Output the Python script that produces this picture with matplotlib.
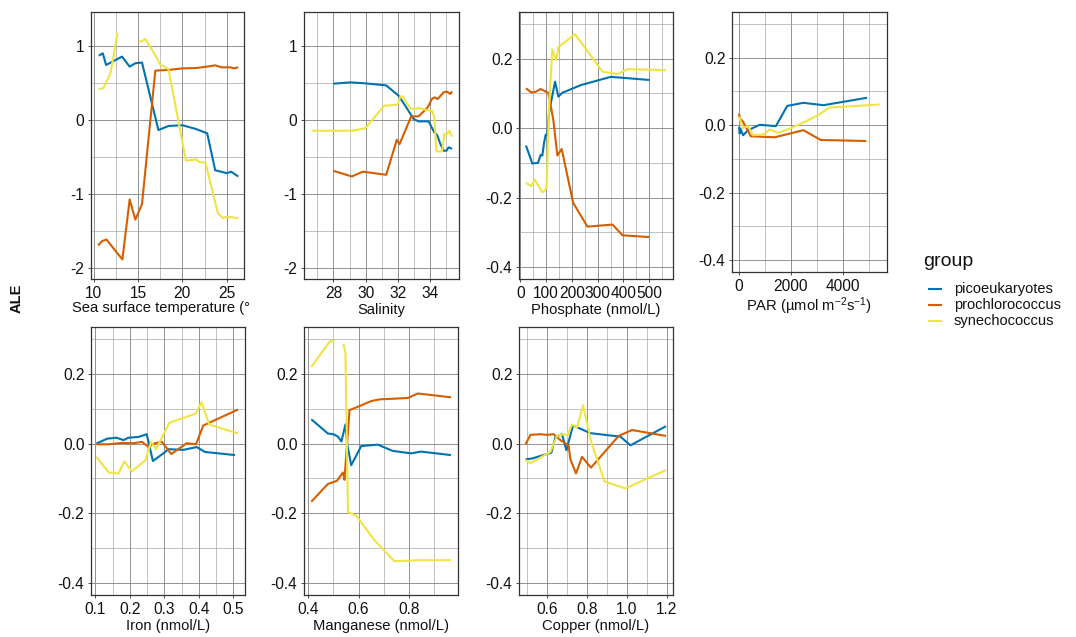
import numpy as np
import matplotlib
matplotlib.use("Agg")
import matplotlib.pyplot as plt
from matplotlib.ticker import MultipleLocator, AutoMinorLocator, FuncFormatter
from matplotlib.lines import Line2D

plt.rcParams['font.family'] = ['Liberation Sans', 'DejaVu Sans']
plt.rcParams['axes.unicode_minus'] = False
plt.rcParams['mathtext.fontset'] = 'custom'
plt.rcParams['mathtext.rm'] = 'Liberation Sans'
plt.rcParams['mathtext.it'] = 'Liberation Sans'

groups = ["picoeukaryotes", "prochlorococcus", "synechococcus"]
colors = ["#0072B2", "#D55E00", "#F0E442"]
nan = np.nan

# ---- Sea surface temperature ----
sst_pico_x = [10.58, 11.03, 11.4, 13.2, 14.06, 14.7, 15.45, 17.3, 18.44, 20.0, 21.5, 22.8, 23.7, 25.0, 25.5, 26.3]
sst_pico_y = [0.873, 0.905, 0.747, 0.86, 0.724, 0.77, 0.78, -0.136, -0.08, -0.07, -0.12, -0.18, -0.68, -0.72, -0.70, -0.765]
sst_pro_x = [10.5, 10.96, 11.44, 13.24, 14.06, 14.7, 15.45, 16.95, 18.44, 20.0, 21.6, 22.75, 23.7, 24.4, 25.4, 25.8, 26.3]
sst_pro_y = [-1.70, -1.64, -1.62, -1.89, -1.077, -1.35, -1.14, 0.67, 0.68, 0.70, 0.706, 0.724, 0.742, 0.715, 0.715, 0.70, 0.715]
sst_syn_x = [10.58, 11.1, 11.9, 12.68, 13.9, 15.07, 15.37, 15.82, 17.1, 17.5, 18.44, 20.4, 21.6, 21.9, 22.6, 24.0, 24.6, 25.0, 26.3]
sst_syn_y = [0.42, 0.434, 0.633, 1.18, nan, 1.068, 1.063, 1.10, 0.85, 0.75, 0.69, -0.55, -0.534, -0.57, -0.575, -1.26, -1.33, -1.31, -1.33]

# ---- Salinity ----
sal_pico_x = [28.0, 29.04, 29.97, 31.27, 32.04, 32.45, 32.97, 33.28, 33.9, 34.25, 34.42, 34.63, 34.83, 35.0, 35.14, 35.35]
sal_pico_y = [0.493, 0.511, 0.498, 0.47, 0.33, 0.195, 0.014, -0.018, -0.018, -0.167, -0.2, -0.326, -0.416, -0.416, -0.37, -0.39]
sal_pro_x = [28.0, 29.14, 29.82, 31.27, 31.93, 32.1, 32.82, 33.28, 33.84, 34.1, 34.27, 34.46, 34.83, 35.04, 35.25, 35.35]
sal_pro_y = [-0.688, -0.765, -0.70, -0.742, -0.267, -0.326, 0.05, 0.05, 0.172, 0.285, 0.308, 0.285, 0.376, 0.385, 0.353, 0.39]
sal_syn_x = [26.65, 29.14, 29.97, 31.15, 31.98, 32.14, 32.29, 32.76, 33.13, 33.28, 33.8, 34.1, 34.25, 34.38, 34.73, 34.87, 35.04, 35.18, 35.35]
sal_syn_y = [-0.145, -0.145, -0.113, 0.195, 0.208, 0.317, 0.321, 0.158, 0.149, 0.163, 0.136, 0.127, 0.045, -0.425, -0.425, -0.19, -0.19, -0.145, -0.226]

# ---- Phosphate ----
pho_pico_x = [22, 46.6, 68.7, 79, 85.5, 92, 98.4, 105, 111, 134.7, 147.7, 163, 234, 351, 500]
pho_pico_y = [-0.05, -0.102, -0.10, -0.077, -0.079, -0.043, -0.019, -0.019, 0.043, 0.134, 0.091, 0.102, 0.124, 0.148, 0.139]
pho_pro_x = [22, 42.7, 59.6, 79, 92, 108.8, 128, 143.8, 160.6, 204.7, 260.4, 357.5, 396.4, 500]
pho_pro_y = [0.115, 0.103, 0.105, 0.113, 0.108, 0.102, 0.024, -0.079, -0.06, -0.215, -0.284, -0.278, -0.309, -0.314]
pho_syn_x = [22, 42.7, 55.7, 85.5, 92, 102, 111, 124, 140, 147.7, 212.4, 318.7, 377, 415.8, 500, 564.8]
pho_syn_y = [-0.158, -0.167, -0.148, -0.185, -0.182, -0.172, 0.053, 0.227, 0.196, 0.234, 0.271, 0.163, 0.156, 0.17, 0.169, 0.167]

# ---- PAR ----
par_pico_x = [0, 26, 52, 155, 348, 800, 1419, 1858, 2477, 3251, 4928]
par_pico_y = [-0.005, -0.025, -0.01, -0.03, -0.015, 0.001, -0.003, 0.057, 0.066, 0.059, 0.081]
par_pro_x = [0, 26, 155, 452, 1380, 2477, 3148, 4902]
par_pro_y = [0.034, 0.02, 0.01, -0.033, -0.036, -0.015, -0.044, -0.047]
par_syn_x = [0, 155, 348, 542, 929, 1187, 1509, 1961, 2541, 3057, 3483, 5418]
par_syn_y = [0.025, -0.008, -0.003, -0.03, -0.028, -0.013, -0.023, -0.01, 0.01, 0.03, 0.052, 0.061]

# ---- Iron ----
fe_pico_x = [0.103, 0.134, 0.161, 0.182, 0.196, 0.225, 0.249, 0.267, 0.30, 0.312, 0.355, 0.394, 0.418, 0.505]
fe_pico_y = [0.0, 0.014, 0.017, 0.010, 0.017, 0.019, 0.027, -0.05, -0.026, -0.016, -0.018, -0.01, -0.024, -0.033]
fe_pro_x = [0.103, 0.139, 0.177, 0.211, 0.235, 0.254, 0.273, 0.293, 0.32, 0.365, 0.392, 0.413, 0.514]
fe_pro_y = [-0.002, -0.002, 0.002, 0.001, 0.005, -0.009, 0.001, 0.005, -0.03, 0.001, -0.002, 0.052, 0.098]
fe_syn_x = [0.103, 0.139, 0.167, 0.184, 0.206, 0.245, 0.262, 0.276, 0.315, 0.391, 0.408, 0.43, 0.514]
fe_syn_y = [-0.038, -0.083, -0.086, -0.051, -0.08, -0.048, 0.005, -0.016, 0.06, 0.086, 0.119, 0.055, 0.029]

# ---- Manganese ----
mn_pico_x = [0.412, 0.478, 0.50, 0.518, 0.532, 0.548, 0.555, 0.571, 0.611, 0.677, 0.736, 0.809, 0.849, 0.968]
mn_pico_y = [0.07, 0.029, 0.027, 0.02, 0.006, 0.055, -0.002, -0.062, -0.007, -0.003, -0.021, -0.028, -0.023, -0.033]
mn_pro_x = [0.412, 0.478, 0.514, 0.538, 0.544, 0.564, 0.611, 0.65, 0.683, 0.796, 0.836, 0.968]
mn_pro_y = [-0.167, -0.116, -0.107, -0.083, -0.104, 0.096, 0.11, 0.122, 0.127, 0.131, 0.144, 0.133]
mn_syn_x = [0.412, 0.485, 0.505, 0.52, 0.54, 0.548, 0.558, 0.591, 0.664, 0.743, 0.842, 0.968]
mn_syn_y = [0.22, 0.293, 0.296, nan, 0.287, 0.26, -0.197, -0.207, -0.278, -0.338, -0.335, -0.335]

# ---- Copper ----
cu_pico_x = [0.493, 0.525, 0.622, 0.642, 0.675, 0.697, 0.73, 0.817, 0.967, 1.017, 1.195]
cu_pico_y = [-0.045, -0.043, -0.026, 0.019, 0.027, -0.019, 0.052, 0.03, 0.02, -0.005, 0.05]
cu_pro_x = [0.493, 0.517, 0.567, 0.60, 0.633, 0.667, 0.708, 0.717, 0.745, 0.775, 0.82, 0.958, 1.025, 1.195]
cu_pro_y = [-0.002, 0.025, 0.027, 0.025, 0.027, 0.01, -0.005, -0.045, -0.086, -0.038, -0.069, 0.022, 0.039, 0.022]
cu_syn_x = [0.493, 0.517, 0.617, 0.65, 0.683, 0.703, 0.725, 0.75, 0.78, 0.822, 0.888, 0.992, 1.195]
cu_syn_y = [-0.047, -0.056, -0.024, 0.022, 0.027, 0.024, 0.055, 0.046, 0.11, 0.003, -0.109, -0.129, -0.076]

xlabels = ["Sea surface temperature (°", "Salinity", "Phosphate (nmol/L)",
           r"PAR (µmol m$^{-2}$s$^{-1}$)", "Iron (nmol/L)", "Manganese (nmol/L)", "Copper (nmol/L)"]

panels = [
    dict(series=[(sst_pico_x, sst_pico_y), (sst_pro_x, sst_pro_y), (sst_syn_x, sst_syn_y)],
         box=(91, 12, 244, 279), xlim=(9.7, 26.95), ylim=(-2.155, 1.465), xmaj=5, ymaj=1,
         xfmt="{:.0f}", yfmt="{:.0f}"),
    dict(series=[(sal_pico_x, sal_pico_y), (sal_pro_x, sal_pro_y), (sal_syn_x, sal_syn_y)],
         box=(304, 12, 459, 279), xlim=(26.18, 35.78), ylim=(-2.155, 1.465), xmaj=2, ymaj=1,
         xfmt="{:.0f}", yfmt="{:.0f}"),
    dict(series=[(pho_pico_x, pho_pico_y), (pho_pro_x, pho_pro_y), (pho_syn_x, pho_syn_y)],
         box=(519, 12, 673, 279), xlim=(-5, 592), ylim=(-0.435, 0.335), xmaj=100, ymaj=0.2,
         xfmt="{:.0f}", yfmt="{:.1f}"),
    dict(series=[(par_pico_x, par_pico_y), (par_pro_x, par_pro_y), (par_syn_x, par_syn_y)],
         box=(732, 12, 887, 272), xlim=(-271, 5700), ylim=(-0.435, 0.335), xmaj=2000, ymaj=0.2,
         xfmt="{:.0f}", yfmt="{:.1f}"),
    dict(series=[(fe_pico_x, fe_pico_y), (fe_pro_x, fe_pro_y), (fe_syn_x, fe_syn_y)],
         box=(91, 327, 245, 595), xlim=(0.0875, 0.534), ylim=(-0.435, 0.335), xmaj=0.1, ymaj=0.2,
         xfmt="{:.1f}", yfmt="{:.1f}"),
    dict(series=[(mn_pico_x, mn_pico_y), (mn_pro_x, mn_pro_y), (mn_syn_x, mn_syn_y)],
         box=(304, 327, 458, 595), xlim=(0.383, 0.996), ylim=(-0.435, 0.335), xmaj=0.2, ymaj=0.2,
         xfmt="{:.1f}", yfmt="{:.1f}"),
    dict(series=[(cu_pico_x, cu_pico_y), (cu_pro_x, cu_pro_y), (cu_syn_x, cu_syn_y)],
         box=(519, 327, 673, 595), xlim=(0.46, 1.23), ylim=(-0.435, 0.335), xmaj=0.2, ymaj=0.2,
         xfmt="{:.1f}", yfmt="{:.1f}"),
]

W, H = 1076, 637
fig = plt.figure(figsize=(W / 100, H / 100), dpi=100)
fig.patch.set_facecolor("white")

def mkfmt(f):
    def _f(v, pos):
        s = f.format(v)
        if s in ("-0", "-0.0"):
            s = s[1:]
        return s
    return FuncFormatter(_f)

for i, p in enumerate(panels):
    l, t, r, b = p["box"]
    ax = fig.add_axes([l / W, 1 - b / H, (r - l) / W, (b - t) / H])
    ax.set_xlim(*p["xlim"])
    ax.set_ylim(*p["ylim"])
    ax.xaxis.set_major_locator(MultipleLocator(p["xmaj"]))
    ax.yaxis.set_major_locator(MultipleLocator(p["ymaj"]))
    ax.xaxis.set_minor_locator(AutoMinorLocator(2))
    ax.yaxis.set_minor_locator(AutoMinorLocator(2))
    ax.xaxis.set_major_formatter(mkfmt(p["xfmt"]))
    ax.yaxis.set_major_formatter(mkfmt(p["yfmt"]))
    ax.grid(which="major", color="#808080", lw=0.6)
    ax.grid(which="minor", color="#9e9e9e", lw=0.45)
    ax.set_axisbelow(True)
    for sp in ax.spines.values():
        sp.set_color("#333333")
        sp.set_linewidth(0.9)
    ax.tick_params(which="major", length=2.5, width=0.6, color="#333333",
                   labelsize=11.2, labelcolor="#111111", pad=2.2)
    ax.tick_params(which="minor", length=0)
    for (xs, ys), c in zip(p["series"], colors):
        ax.plot(xs, ys, color=c, lw=1.5, solid_capstyle="butt", solid_joinstyle="round")
    ax.set_xlabel(xlabels[i], fontsize=10.6, color="#111111", labelpad=1.5)
    if i == 0:
        ax.xaxis.set_label_coords(0.46, -0.083)

fig.text(17 / W, 1 - 298 / H, "ALE", rotation=90, fontsize=10.5, fontweight="bold",
         ha="center", va="center", color="#111111")

# legend
fig.text(923 / W, 1 - 262 / H, "group", fontsize=14, ha="left", va="center", color="#111111")
leg_y = [289, 305, 321]
for g, c, yy in zip(groups, colors, leg_y):
    fig.add_artist(Line2D([929 / W, 941 / W], [1 - yy / H, 1 - yy / H], color=c, lw=1.5,
                          transform=fig.transFigure))
    fig.text(954 / W, 1 - yy / H, g, fontsize=10.5, ha="left", va="center", color="#111111")

fig.savefig("out.png", dpi=100, facecolor="white")
